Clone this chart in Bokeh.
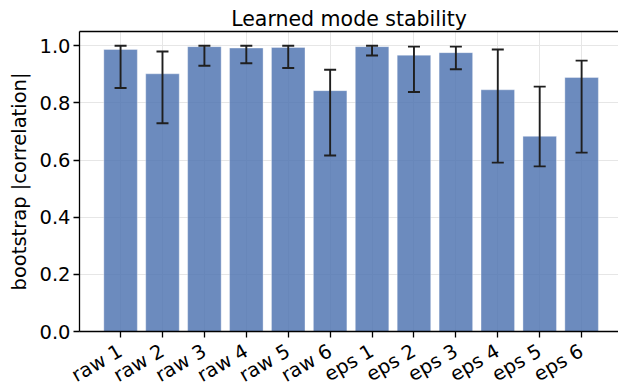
import math
from bokeh.plotting import figure
from bokeh.models import (ColumnDataSource, Range1d, FixedTicker, LinearAxis, Whisker, TeeHead,
                          PrintfTickFormatter)
from bokeh.embed import file_html
from bokeh.resources import INLINE

labels = ["raw 1", "raw 2", "raw 3", "raw 4", "raw 5", "raw 6",
          "eps 1", "eps 2", "eps 3", "eps 4", "eps 5", "eps 6"]
values = [0.987, 0.902, 0.997, 0.992, 0.994, 0.843,
          0.997, 0.967, 0.976, 0.846, 0.683, 0.889]
err_low = [0.852, 0.729, 0.930, 0.939, 0.922, 0.616,
           0.966, 0.838, 0.918, 0.591, 0.578, 0.626]
err_high = [1.0, 0.980, 1.0, 1.0, 1.0, 0.916,
            1.0, 0.997, 0.997, 0.987, 0.857, 0.948]
y_ticks = [0.0, 0.2, 0.4, 0.6, 0.8, 1.0]

xs = list(range(len(labels)))
src = ColumnDataSource(dict(x=xs, top=values, lo=err_low, hi=err_high))

FONT = "DejaVu Sans"
TXT = "#000000"
FS = "19.5px"
ERR = "#1f1f1f"

p = figure(frame_width=539, frame_height=300, output_backend="svg", toolbar_location=None,
           x_range=Range1d(-0.98, 11.88), y_range=Range1d(0, 1.05),
           min_border_left=79, min_border_right=0, min_border_top=31, min_border_bottom=61)
p.outline_line_color = None
p.background_fill_color = "white"

p.title.text = "Learned mode stability"
p.title.align = "center"
p.title.text_font = FONT
p.title.text_font_size = "20.5px"
p.title.text_font_style = "normal"
p.title.text_color = TXT
p.title.standoff = 2

p.vbar(x="x", top="top", width=0.8, bottom=0, source=src,
       fill_color="#4C72B0", fill_alpha=0.82, line_color="#ffffff", line_alpha=0.35, line_width=1)

w = Whisker(base="x", lower="lo", upper="hi", source=src, line_color=ERR, line_width=1.9,
            level="overlay",
            upper_head=TeeHead(size=12, line_color=ERR, line_width=1.9),
            lower_head=TeeHead(size=12, line_color=ERR, line_width=1.9))
p.add_layout(w)

xa = p.xaxis[0]
xa.ticker = FixedTicker(ticks=xs)
xa.major_label_overrides = {i: l for i, l in enumerate(labels)}
xa.major_label_orientation = math.pi / 6
ya = p.yaxis[0]
ya.ticker = FixedTicker(ticks=y_ticks)
ya.formatter = PrintfTickFormatter(format="%.1f")
ya.axis_label = "bootstrap |correlation|"

for ax in (xa, ya):
    ax.major_label_text_font = FONT
    ax.major_label_text_font_size = FS
    ax.major_label_text_color = TXT
    ax.axis_label_text_font = FONT
    ax.axis_label_text_font_size = FS
    ax.axis_label_text_font_style = "normal"
    ax.axis_label_text_color = TXT
    ax.axis_line_color = TXT
    ax.axis_line_width = 1.3
    ax.major_tick_line_color = TXT
    ax.major_tick_line_width = 1.3
    ax.major_tick_out = 6
    ax.major_tick_in = 0
    ax.minor_tick_line_color = None
    ax.major_label_standoff = 3
xa.major_label_standoff = 12

top = LinearAxis(ticker=FixedTicker(ticks=[]), major_label_text_font_size="0px",
                 axis_line_color=TXT, axis_line_width=1.3,
                 major_tick_line_color=None, minor_tick_line_color=None)
p.add_layout(top, "above")

p.xgrid.ticker = FixedTicker(ticks=xs)
p.ygrid.ticker = FixedTicker(ticks=y_ticks)
for g in (p.xgrid, p.ygrid):
    g.grid_line_color = "#e6e6e6"
    g.grid_line_width = 1

open("out.html", "w").write(file_html(p, INLINE))
